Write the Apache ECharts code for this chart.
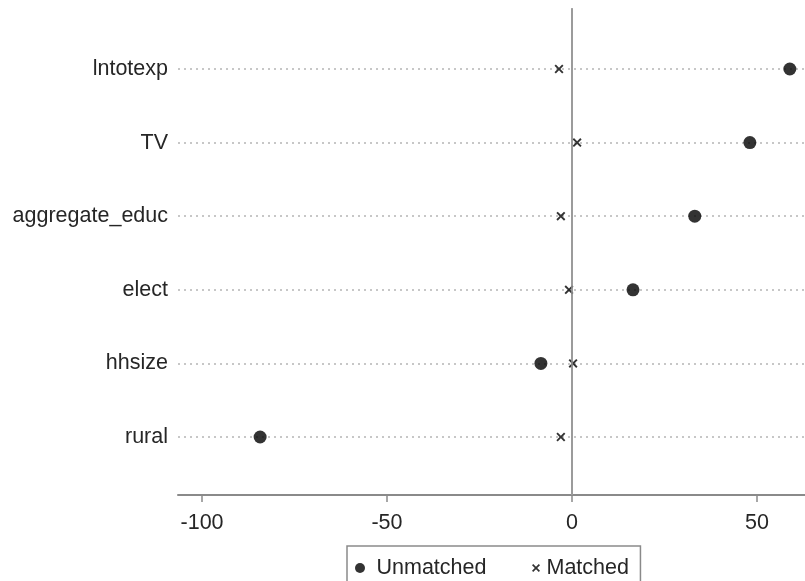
<!DOCTYPE html>
<html>
<head>
<meta charset="utf-8">
<script src="https://cdn.jsdelivr.net/npm/echarts@6/dist/echarts.min.js"></script>
<style>
  html, body { margin: 0; padding: 0; background: #fff; }
  #chart { width: 805px; height: 581px; }
</style>
</head>
<body>
<div id="chart"></div>
<script>
// Standardised % bias per covariate, before and after matching
const variables = ['lntotexp', 'TV', 'aggregate_educ', 'elect', 'hhsize', 'rural'];
const unmatched = [58.9, 48.1, 33.2, 16.5, -8.4, -84.3];
const matched = [-3.5, 1.4, -3.0, -0.8, 0.3, -3.0];
const xTicks = [-100, -50, 0, 50];

const xMin = -106.5, xMax = 63;
const FONT = 'Liberation Sans, Arial, sans-serif';
const TEXT = '#262626';
const crossPath = 'path://M0,1.5 L1.5,0 L5,3.5 L8.5,0 L10,1.5 L6.5,5 L10,8.5 L8.5,10 L5,6.5 L1.5,10 L0,8.5 L3.5,5 Z';

const chart = echarts.init(document.getElementById('chart'), null, { renderer: 'canvas' });

chart.setOption({
  animation: false,
  backgroundColor: '#fff',
  grid: [
    // frame: axis lines and x tick labels
    { left: 178, right: 0, top: 9, bottom: 86 },
    // data rows
    { left: 178, right: 0, top: 69, bottom: 144 }
  ],
  xAxis: [
    {
      gridIndex: 0, type: 'value', min: xMin, max: xMax,
      axisLine: { show: true, onZero: false, lineStyle: { color: '#8a8a8a', width: 2 } },
      axisTick: { show: true, length: 7, customValues: xTicks, lineStyle: { color: '#8a8a8a', width: 1.5 } },
      axisLabel: { customValues: xTicks, fontSize: 21.5, fontFamily: FONT, color: TEXT, margin: 17 },
      splitLine: { show: false }
    },
    {
      gridIndex: 1, type: 'value', min: xMin, max: xMax, show: false,
      splitLine: { show: false }
    }
  ],
  yAxis: [
    {
      gridIndex: 0, type: 'value', min: 0, max: 1,
      axisLine: { show: true, lineStyle: { color: '#8a8a8a', width: 2 } },
      axisTick: { show: false }, axisLabel: { show: false }, splitLine: { show: false }
    },
    {
      gridIndex: 1, type: 'category', data: variables, inverse: true, boundaryGap: false,
      axisLine: { show: false }, axisTick: { show: false },
      axisLabel: { fontSize: 21.5, fontFamily: FONT, color: TEXT, margin: 10 },
      splitLine: { show: true, lineStyle: { color: '#b5b5b5', type: [2, 4], width: 1.5 } }
    }
  ],
  legend: [
    {
      // first key entry; its border frames the whole key
      left: 347, top: 546,
      itemWidth: 23, itemHeight: 10,
      padding: [11, 154, 16, 8],
      borderColor: '#8a8a8a', borderWidth: 1.5,
      textStyle: { fontSize: 21.5, fontFamily: FONT, color: TEXT },
      data: [{ name: 'Unmatched', icon: 'circle' }]
    },
    {
      left: 532, top: 557,
      itemWidth: 11, itemHeight: 8,
      padding: 0,
      textStyle: { fontSize: 21.5, fontFamily: FONT, color: TEXT },
      data: [{ name: 'Matched', icon: crossPath }]
    }
  ],
  series: [
    {
      // zero reference line spanning the full frame
      type: 'line', xAxisIndex: 0, yAxisIndex: 0, data: [], silent: true,
      markLine: {
        silent: true, symbol: 'none', label: { show: false },
        lineStyle: { color: '#a0a0a0', width: 1.5, type: 'solid' },
        data: [{ xAxis: 0 }]
      }
    },
    {
      name: 'Unmatched', type: 'scatter', xAxisIndex: 1, yAxisIndex: 1,
      symbol: 'circle', symbolSize: 13,
      itemStyle: { color: '#000' },
      data: unmatched.map((v, i) => [v, variables[i]]),
      z: 3
    },
    {
      name: 'Matched', type: 'scatter', xAxisIndex: 1, yAxisIndex: 1,
      symbol: crossPath, symbolSize: 9,
      itemStyle: { color: '#000' },
      data: matched.map((v, i) => [v, variables[i]]),
      z: 4
    }
  ]
});
</script>
</body>
</html>
